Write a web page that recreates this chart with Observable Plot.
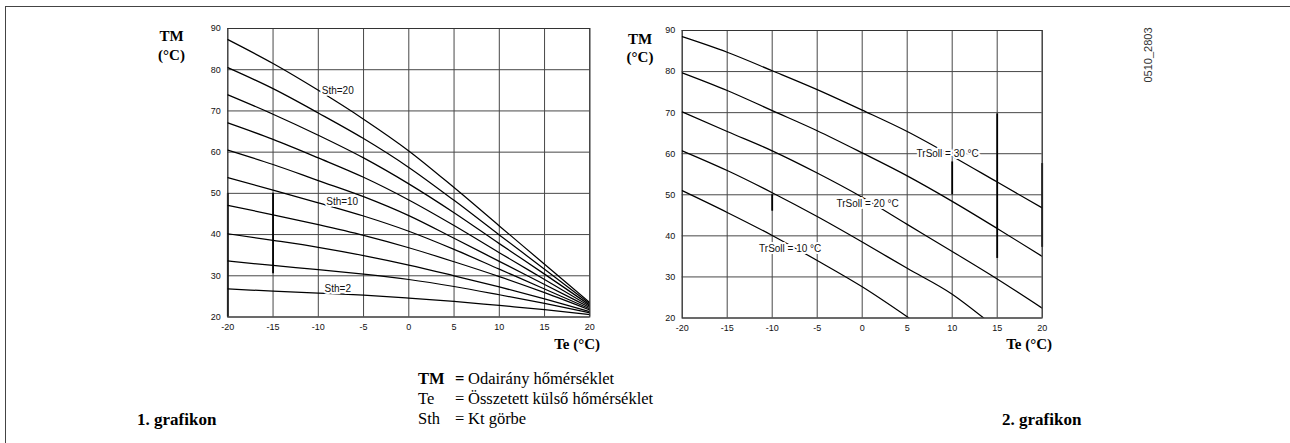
<!DOCTYPE html>
<html><head><meta charset="utf-8">
<script src="https://cdn.jsdelivr.net/npm/d3@7"></script>
<script src="https://cdn.jsdelivr.net/npm/@observablehq/plot@0.6"></script>
<style>
body{margin:0;background:#fff;}
#root{position:relative;width:1290px;height:443px;overflow:hidden;background:#fff;}
.abs{position:absolute;white-space:nowrap;line-height:1;}
.serif{font-family:"Liberation Serif","Times New Roman",serif;color:#000;}
.b{font-weight:bold;}
.plot{position:absolute;top:0;}
</style></head><body><div id="root"></div>
<script>
// ---- data ----
const teGrid = [-20, -15, -10, -5, 0, 5, 10, 15, 20];
const tmTicks = [20, 30, 40, 50, 60, 70, 80, 90];
const sthNames = ["20", "18", "16", "14", "12", "10", "8", "6", "4", "2"];
const sth20 = [87.3, 81.5, 75.0, 68.0, 60.3, 51.4, 42.1, 32.8, 23.5];
const sth18 = [80.5, 75.4, 69.5, 63.3, 56.3, 48.3, 39.9, 31.6, 23.2];
const sth16 = [73.9, 69.2, 64.1, 58.6, 52.3, 45.3, 37.8, 30.4, 22.9];
const sth14 = [67.1, 63.1, 58.6, 53.9, 48.4, 42.2, 35.6, 29.1, 22.6];
const sth12 = [60.5, 57.0, 53.1, 49.2, 44.6, 39.1, 33.5, 27.9, 22.3];
const sth10 = [53.8, 50.8, 47.7, 44.5, 40.8, 36.4, 31.6, 26.8, 22.0];
const sth8  = [47.1, 44.8, 42.4, 39.8, 36.8, 33.4, 29.8, 25.9, 21.7];
const sth6  = [40.2, 38.6, 36.9, 34.9, 32.6, 30.0, 27.3, 24.4, 21.3];
const sth4  = [33.6, 32.5, 31.5, 30.4, 29.1, 27.4, 25.4, 23.3, 21.0];
const sth2  = [26.8, 26.3, 25.8, 25.3, 24.6, 23.8, 22.8, 21.8, 20.6];
const sthLabels = ["Sth=20", "Sth=10", "Sth=2"];
const sthLabelTe = [-7.85, -7.36, -7.85];
const sthLabelTM = [74.95, 47.85, 26.8];

const trTeA = [-20, -15, -10, -5, 0, 5, 10, 15, 20];
const trA = [88.5, 84.7, 80.2, 75.6, 70.6, 65.4, 59.4, 53.1, 46.8];
const trB = [79.7, 75.4, 70.5, 65.6, 60.2, 54.6, 48.4, 41.8, 35.0];
const trC = [70.2, 65.4, 60.7, 55.3, 49.4, 42.8, 36.2, 29.5, 22.4];
const trTeD = [-20, -15, -10, -5, 0, 5, 10, 13.5];
const trD = [60.7, 55.9, 50.5, 44.7, 38.5, 32.1, 25.8, 20.0];
const trTeE = [-20, -15, -10, -5, 0, 5.2];
const trE = [51.0, 45.7, 40.1, 34.0, 27.6, 20.0];
const trLabels = ["TrSoll = 30 °C", "TrSoll = 20 °C", "TrSoll = 10 °C"];
const trLabelTe = [9.5, 0.6, -8.0];
const trLabelTM = [60.0, 47.8, 36.85];

// darker scan streaks on some grid lines (Te, TM from, TM to)
const leftStreakTe = [-15, -20];
const leftStreakFrom = [30.5, 20];
const leftStreakTo = [50, 50];
const rightStreakTe = [10, 15, 20, -10];
const rightStreakFrom = [50, 34.5, 37.2, 46];
const rightStreakTo = [58, 69.7, 57.6, 50];

// ---- build tables ----
const sthSeries = [sth20, sth18, sth16, sth14, sth12, sth10, sth8, sth6, sth4, sth2];
const leftRows = sthSeries.flatMap((vals, i) => vals.map((v, j) => ({s: sthNames[i], te: teGrid[j], tm: v})));
const leftLabels = sthLabels.map((t, i) => ({t, te: sthLabelTe[i], tm: sthLabelTM[i]}));
const leftStreaks = leftStreakTe.map((te, i) => ({te, y1: leftStreakFrom[i], y2: leftStreakTo[i]}));
const rightSets = [[trTeA, trA], [trTeA, trB], [trTeA, trC], [trTeD, trD], [trTeE, trE]];
const rightRows = rightSets.flatMap(([xs, ys], i) => ys.map((v, j) => ({s: i, te: xs[j], tm: v})));
const rightLabels = trLabels.map((t, i) => ({t, te: trLabelTe[i], tm: trLabelTM[i]}));
const rightStreaks = rightStreakTe.map((te, i) => ({te, y1: rightStreakFrom[i], y2: rightStreakTo[i]}));

const root = document.getElementById("root");

function chart(rows, labels, streaks, o) {
  return Plot.plot({
    width: o.width, height: o.height,
    marginLeft: o.ml, marginRight: o.mr, marginTop: o.mt, marginBottom: o.mb,
    x: {domain: [-20, 20], ticks: teGrid, tickSize: 0, tickPadding: 7, tickFormat: d => String(d), label: null},
    y: {domain: [20, 90], ticks: tmTicks, tickSize: 0, tickPadding: 7, tickFormat: d => String(d), label: null},
    style: {fontFamily: "'Liberation Sans', Arial, sans-serif", fontSize: "9px", color: "#111", background: "transparent", overflow: "visible"},
    marks: [
      Plot.ruleX(teGrid, {stroke: "#474747", strokeWidth: 1}),
      Plot.ruleY(tmTicks, {stroke: "#474747", strokeWidth: 1}),
      Plot.ruleX(streaks, {x: "te", y1: "y1", y2: "y2", stroke: "#000", strokeWidth: 1.8}),
      Plot.frame({stroke: "#333", strokeWidth: 1}),
      Plot.line(rows, {x: "te", y: "tm", z: "s", curve: "monotone-x", stroke: "#000", strokeWidth: 1.25, clip: true}),
      Plot.text(labels, {x: "te", y: "tm", text: "t", fill: "#111", stroke: "white", strokeWidth: 4, paintOrder: "stroke", fontSize: 10, fontFamily: "'Liberation Sans', Arial, sans-serif"})
    ]
  });
}

const left = chart(leftRows, leftLabels, leftStreaks, {width: 440, height: 345, ml: 47.3, mr: 30.7, mt: 28, mb: 28.5});
left.classList.add("plot"); left.style.left = "180px";
root.appendChild(left);
const right = chart(rightRows, rightLabels, rightStreaks, {width: 450, height: 345, ml: 51.7, mr: 38.3, mt: 30, mb: 27.5});
right.classList.add("plot"); right.style.left = "630px";
root.appendChild(right);

// ---- frame lines ----
const fr = document.createElement("div");
fr.className = "abs";
fr.style.cssText += "left:5px;top:6px;width:1300px;height:450px;border-top:1.5px solid #444;border-left:1.5px solid #444;";
root.appendChild(fr);

// ---- text helpers ----
function txt(s, x, base, fs, cls, anchor, extra) {
  const d = document.createElement("div");
  d.className = "abs " + (cls || "");
  d.textContent = s;
  d.style.fontSize = fs + "px";
  d.style.top = (base - 0.84 * fs) + "px";
  d.style.left = x + "px";
  if (anchor === "middle") d.style.transform = "translateX(-50%)";
  if (anchor === "end") d.style.transform = "translateX(-100%)";
  if (extra) d.style.cssText += extra;
  root.appendChild(d);
  return d;
}
// axis titles
txt("TM", 171.5, 42, 15, "serif b", "middle");
txt("(°C)", 171.5, 61, 15, "serif b", "middle");
txt("TM", 640, 45, 15, "serif b", "middle");
txt("(°C)", 640, 63, 15, "serif b", "middle");
txt("Te (°C)", 600, 350, 15, "serif b", "end");
txt("Te (°C)", 1052, 350, 15, "serif b", "end");
// legend
const LF = 16.5;
txt("TM", 418, 385, LF, "serif b");
txt("=", 455, 385, LF, "serif b");
txt("Odairány hőmérséklet", 468, 385, LF, "serif");
txt("Te", 418, 405, LF, "serif");
txt("=", 455, 405, LF, "serif");
txt("Összetett külső hőmérséklet", 468, 405, LF, "serif");
txt("Sth", 418, 425, LF, "serif");
txt("=", 455, 425, LF, "serif");
txt("Kt görbe", 468, 425, LF, "serif");
txt("1. grafikon", 137, 425, 17, "serif b");
txt("2. grafikon", 1002, 425, 17, "serif b");
// code
const code = txt("0510_2803", 1148, 55, 11, "", "", "font-family:'Liberation Sans',Arial,sans-serif;color:#333;");
code.style.top = "55px";
code.style.transform = "translate(-50%,-50%) rotate(-90deg)";
</script></body></html>
